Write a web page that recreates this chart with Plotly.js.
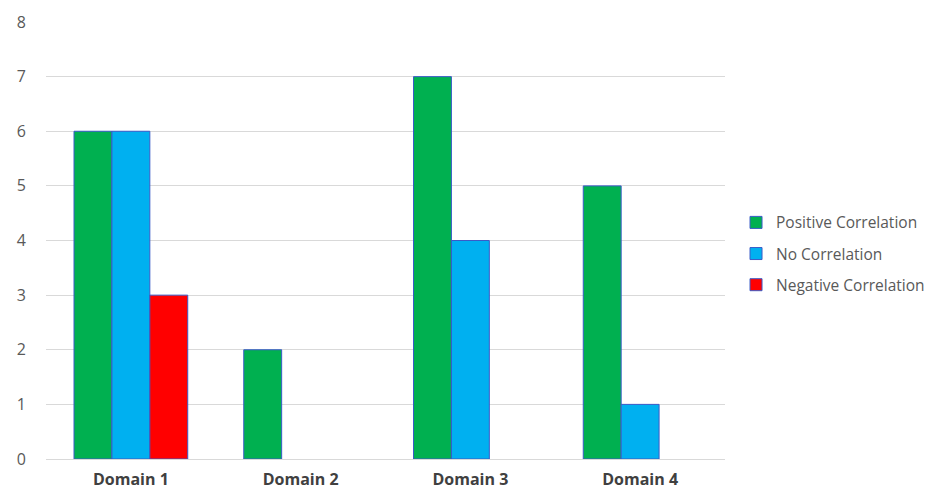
<!DOCTYPE html>
<html>
<head>
<meta charset="utf-8">
<script src="https://cdn.plot.ly/plotly-3.0.1.min.js"></script>
<style>html,body{margin:0;padding:0;background:#fff}#chart{width:940px;height:490px}</style>
</head>
<body>
<div id="chart"></div>
<script>
const categories = ["Domain 1", "Domain 2", "Domain 3", "Domain 4"];
const seriesNames = ["Positive Correlation", "No Correlation", "Negative Correlation"];
const positive = [6, 2, 7, 5];
const noCorr = [6, null, 4, 1];
const negative = [3, null, null, null];
const yTicks = [0, 1, 2, 3, 4, 5, 6, 7, 8];

const colors = ["#00B050", "#00B0F0", "#FF0000"];
const values = [positive, noCorr, negative];

const traces = values.map((v, i) => ({
  type: "bar",
  name: seriesNames[i],
  x: categories,
  y: v,
  legendgroup: "g" + i,
  marker: { color: colors[i], line: { color: "#3A5BC7", width: 1 } },
  hoverinfo: "x+y+name"
}));

const layout = {
  width: 940, height: 490,
  margin: { l: 46, r: 215, t: 22, b: 31 },
  paper_bgcolor: "#fff", plot_bgcolor: "#fff",
  barmode: "group",
  bargap: 0.33, bargroupgap: 0,
  font: { family: "Open Sans, Liberation Sans, sans-serif", color: "#595959", size: 16 },
  xaxis: {
    type: "category",
    automargin: false,
    tickfont: { family: "Open Sans, Liberation Sans, sans-serif", size: 16, color: "#404040", weight: "bold" },
    showgrid: false, zeroline: false, showline: false,
    ticks: "outside", ticklen: 6, tickcolor: "rgba(0,0,0,0)"
  },
  yaxis: {
    range: [0, 8],
    automargin: false,
    tickvals: yTicks,
    ticktext: yTicks.map(String),
    showgrid: true, gridcolor: "#D9D9D9", gridwidth: 1,
    zeroline: true, zerolinecolor: "#D9D9D9", zerolinewidth: 1,
    showline: false,
    ticks: "outside", ticklen: 16, tickcolor: "rgba(0,0,0,0)",
    tickfont: { size: 16, color: "#595959" }
  },
  showlegend: true,
  legend: {
    xref: "container", yref: "container",
    x: 0.783, xanchor: "left",
    y: 0.482, yanchor: "middle",
    traceorder: "grouped",
    tracegroupgap: 8,
    font: { size: 15.5, color: "#595959" },
    itemwidth: 30
  }
};

Plotly.newPlot("chart", traces, layout, { displayModeBar: false, staticPlot: true });
</script>
</body>
</html>
